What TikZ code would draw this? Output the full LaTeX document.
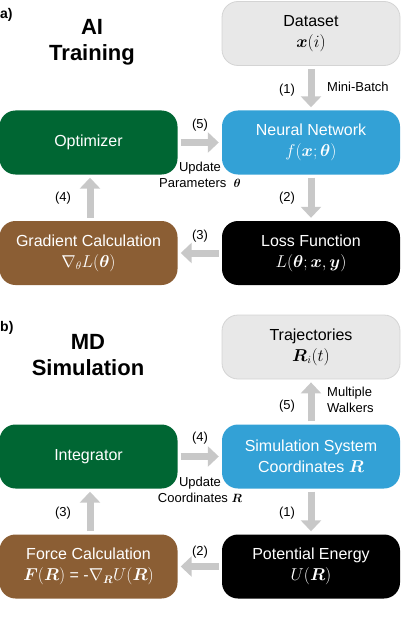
\documentclass[tikz,border=0pt]{standalone}
\usepackage{amssymb}
\usepackage{amsmath}
\usepackage{fontspec}
\setmainfont{Liberation Sans}
\usetikzlibrary{arrows.meta}
\definecolor{optgreen}{RGB}{0,102,51}
\definecolor{netblue}{RGB}{51,161,214}
\definecolor{gradbrown}{RGB}{139,94,52}
\definecolor{datagrey}{RGB}{232,232,232}
\definecolor{dataedge}{RGB}{212,212,212}
\definecolor{arrowgrey}{RGB}{200,200,200}

\begin{document}
\begin{tikzpicture}[x=1bp,y=-1bp,
	flowbox/.style={rounded corners=16bp, minimum width=178bp, minimum height=64bp, inner sep=0pt, align=center, text=white, font=\fontsize{16bp}{21bp}\selectfont},
	greybox/.style={flowbox, fill=datagrey, draw=dataedge, line width=0.8bp, text=black},
	blkarrow/.style={draw=arrowgrey, line width=7bp, -{Triangle[width=20bp,length=11bp]}, shorten <=3bp, shorten >=3bp},
	lbl/.style={font=\fontsize{13bp}{16bp}\selectfont, align=center, inner sep=0pt},
	panel/.style={font=\bfseries\fontsize{14bp}{16bp}\selectfont, inner sep=0pt, anchor=west},
	heading/.style={font=\bfseries\fontsize{22bp}{26bp}\selectfont, align=center, inner sep=0pt}]
	\useasboundingbox (0,0) rectangle (400,629);
	
	%a) AI training
	\node[panel]   (pa)    at (0,15)    {a)};
	\node[heading] (tra)   at (92,42)   {AI\\Training};
	
	%boxes
	\node[greybox]              (data) at (311,33.5)  {Dataset\\$\boldsymbol{x}(i)$};
	\node[flowbox,fill=netblue]   (net)  at (311,142.5) {Neural Network\\$f(\boldsymbol{x};\boldsymbol{\theta})$};
	\node[flowbox,fill=optgreen]  (opt)  at (88.5,142.5) {Optimizer};
	\node[flowbox,fill=black]     (loss) at (311,253)   {Loss Function\\$L(\boldsymbol{\theta};\boldsymbol{x},\boldsymbol{y})$};
	\node[flowbox,fill=gradbrown] (grad) at (88.5,253)  {Gradient Calculation\\$\nabla_{\theta}L(\boldsymbol{\theta})$};
	
	%arrows
	\draw[blkarrow] (data) -- (net);		%(1)
	\draw[blkarrow] (net) -- (loss);		%(2)
	\draw[blkarrow] (loss) -- (grad);		%(3)
	\draw[blkarrow] (grad.north -| 90,0) -- (opt.south -| 90,0);	%(4)
	\draw[blkarrow] (opt) -- (net);			%(5)
	
	%labels
	\node[lbl] (n1a) at (287,90)  {(1)};
	\node[lbl,anchor=west] (mb) at (327,87) {Mini-Batch};
	\node[lbl] (n2a) at (287,198) {(2)};
	\node[lbl] (n3a) at (200,236) {(3)};
	\node[lbl] (n4a) at (63,198)  {(4)};
	\node[lbl] (n5a) at (200,125) {(5)};
	\node[lbl] (upa) at (200,175) {Update\\Parameters\ \ $\boldsymbol{\theta}$};
	
	%b) MD simulation
	\node[panel]   (pb)    at (0,328)   {b)};
	\node[heading] (trb)   at (88,355)  {MD\\Simulation};
	
	%boxes
	\node[greybox]              (traj) at (311,347)   {Trajectories\\$\boldsymbol{R}_i(t)$};
	\node[flowbox,fill=netblue]   (sys)  at (311,456.5) {Simulation System\\Coordinates $\boldsymbol{R}$};
	\node[flowbox,fill=optgreen]  (intg) at (88.5,456.5) {Integrator};
	\node[flowbox,fill=black]     (pot)  at (311,566.5) {Potential Energy\\$U(\boldsymbol{R})$};
	\node[flowbox,fill=gradbrown] (force) at (88.5,566.5) {Force Calculation\\$\boldsymbol{F}(\boldsymbol{R})$ = -$\nabla_{\boldsymbol{R}}U(\boldsymbol{R})$};
	
	%arrows
	\draw[blkarrow] (sys) -- (pot);			%(1)
	\draw[blkarrow] (pot) -- (force);		%(2)
	\draw[blkarrow] (force.north -| 90,0) -- (intg.south -| 90,0);	%(3)
	\draw[blkarrow] (intg) -- (sys);		%(4)
	\draw[blkarrow] (sys) -- (traj);		%(5)
	
	%labels
	\node[lbl] (n1b) at (287,513) {(1)};
	\node[lbl] (n2b) at (200,552) {(2)};
	\node[lbl] (n3b) at (63,513)  {(3)};
	\node[lbl] (n4b) at (200,438) {(4)};
	\node[lbl] (n5b) at (287,406) {(5)};
	\node[lbl,anchor=west,align=left] (mw) at (327,400) {Multiple\\Walkers};
	\node[lbl] (upb) at (200,490) {Update\\Coordinates $\boldsymbol{R}$};
	
\end{tikzpicture}
\end{document}
